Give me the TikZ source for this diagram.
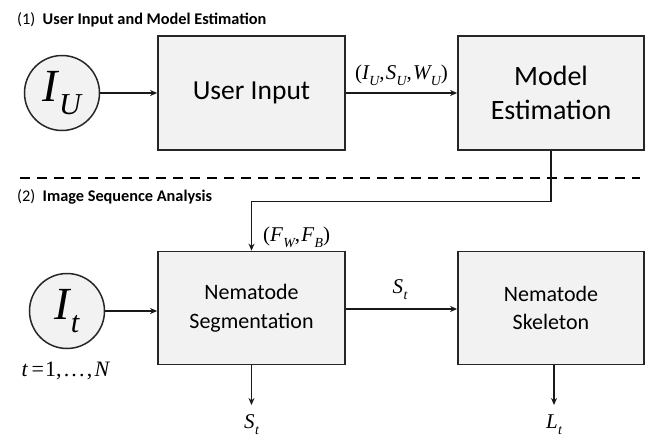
\documentclass[tikz,border=0pt]{standalone}
\usepackage{graphicx}
\usepackage{fontspec}
\setmainfont{Carlito}
\newfontfamily\tms{Liberation Serif}
\usetikzlibrary{arrows.meta,calc}
\definecolor{boxfill}{HTML}{F2F2F2}
\newcommand\mv[2]{{\tms\itshape #1}\kern0.02em\raisebox{-0.28em}{\scalebox{0.66}{\tms\itshape #2}}}
\tikzset{
  box/.style={draw=black!85, line width=1.8pt, fill=boxfill, rectangle, inner sep=0pt, align=center},
  circ/.style={draw=black!85, line width=1.5pt, fill=boxfill, circle, inner sep=0pt, minimum size=75pt},
  arr/.style={line width=1.7pt, draw=black!90, -{Stealth[length=7pt,width=6pt]}},
  lbl/.style={inner sep=0pt, font=\fontsize{21}{21}\selectfont\tms},
  ttl/.style={inner sep=0pt, anchor=west, font=\fontsize{16.3}{16}\selectfont}
}
\begin{document}
\begin{tikzpicture}[x=1pt,y=-1pt]
\useasboundingbox (0,0) rectangle (645,437);
% titles
\node[ttl] (t1) at (17,20) {(1)\ \ \textbf{User Input and Model Estimation}};
\node[ttl] (t2) at (17,197) {(2)\ \ \textbf{Image Sequence Analysis}};
% separator
\coordinate (dl) at (20,178);
\coordinate (dr) at (640,178);
\draw[line width=2.2pt, dash pattern=on 10pt off 7pt] (dl) -- (dr);
% part 1
\node[circ] (IU) at (62,93) {\fontsize{46}{46}\selectfont\mv{I}{U}};
\node[box, minimum width=187pt, minimum height=114pt, font=\fontsize{27.5}{27.5}\selectfont] (UI) at (251.5,93) {User Input};
\node[box, minimum width=186pt, minimum height=114pt, font=\fontsize{28}{34}\selectfont] (ME) at (551,93) {Model\\Estimation};
\draw[arr] (IU) -- (UI);
\draw[arr] (UI) -- (ME);
\node[lbl] (l1) at (401.5,75) {(\mv{I}{U},\kern0.05em\mv{S}{U},\kern0.05em\mv{W}{U})};
% part 2
\node[circ] (It) at (67,311) {\fontsize{46}{46}\selectfont\mv{I}{t}};
\node[lbl, font=\fontsize{22}{22}\selectfont\tms] (tn) at (66,371) {\textit{t}\kern0.15em=\kern0.05em1,\kern0.1em.\kern0.1em.\kern0.1em.\kern0.1em,\kern0.1em\textit{N}};
\node[box, minimum width=187pt, minimum height=113pt, font=\fontsize{22}{29}\selectfont] (Seg) at (251.5,308) {Nematode\\Segmentation};
\node[box, minimum width=186pt, minimum height=113pt, font=\fontsize{22}{28}\selectfont] (Sk) at (551,308) {Nematode\\Skeleton};
\draw[arr] (It) -- (Seg.west |- It);
\draw[arr] (ME.south) -- ++(0,50.7) -| (Seg.north);
\node[lbl, anchor=west] (l2) at (263,237) {(\mv{F}{W},\kern0.05em\mv{F}{B})};
\draw[arr] (Seg.east |- 0,309) -- (Sk.west |- 0,309);
\node[lbl] (l3) at (400,290) {\mv{S}{t}};
\coordinate (o1) at (251.5,405);
\coordinate (o2) at (554,405);
\draw[arr] (Seg.south) -- (o1);
\draw[arr] (Sk.south -| o2) -- (o2);
\node[lbl] (St) at (251.5,425) {\mv{S}{t}};
\node[lbl] (Lt) at (554,425) {\mv{L}{t}};
\end{tikzpicture}
\end{document}
